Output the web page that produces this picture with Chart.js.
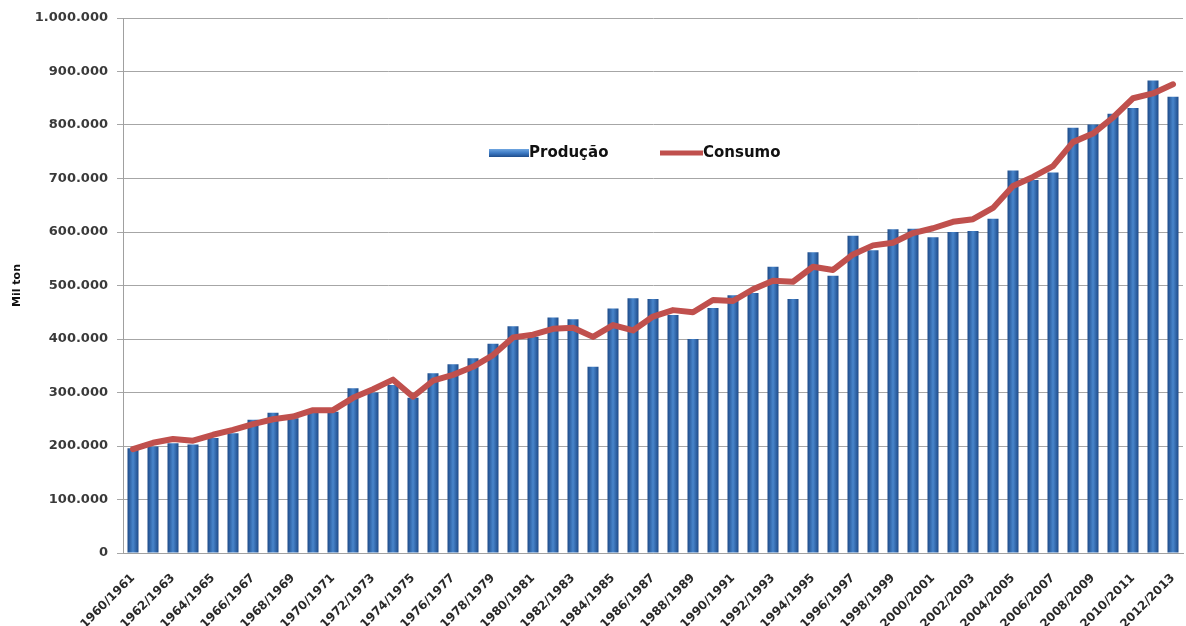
<!DOCTYPE html>
<html>
<head>
<meta charset="utf-8">
<style>
  html, body { margin: 0; padding: 0; background: #fff; }
  #wrap { position: relative; width: 1186px; height: 626px; }
</style>
<script src="https://cdn.jsdelivr.net/npm/chart.js@4.4.1/dist/chart.umd.min.js"></script>
</head>
<body>
<div id="wrap"><canvas id="grain-chart" width="1186" height="626"></canvas></div>
<script>
// safras 1960/1961 .. 2012/2013, valores em mil toneladas
const safras = [];
for (let y = 1960; y <= 2012; y++) safras.push(y + '/' + (y + 1));

const producao = [
  196000, 199000, 205000, 203000, 215000, 224000, 249000, 262000, 252000, 262000,
  264000, 308000, 300000, 314000, 290000, 336000, 353000, 364000, 391000, 424000,
  404000, 440000, 437000, 348000, 457000, 476000, 475000, 445000, 400000, 458000,
  482000, 486000, 535000, 475000, 562000, 518000, 593000, 566000, 605000, 606000,
  590000, 600000, 602000, 625000, 715000, 697000, 711000, 795000, 801000, 821000,
  832000, 883000, 853000
];

const consumo = [
  194000, 206000, 213000, 210000, 221000, 230000, 241000, 250000, 255000, 267000,
  267000, 290000, 306000, 324000, 292000, 322000, 333000, 348000, 370000, 403000,
  408000, 419000, 421000, 404000, 426000, 416000, 442000, 454000, 450000, 473000,
  471000, 493000, 509000, 507000, 535000, 529000, 558000, 575000, 580000, 598000,
  607000, 619000, 624000, 645000, 686000, 703000, 723000, 768000, 784000, 814000,
  850000, 859000, 876000
];

const yMax = 1000000;
const yStep = 100000;

function formatMil(v) {
  return v.toString().replace(/\B(?=(\d{3})+(?!\d))/g, '.');
}

// gradiente horizontal de cada barra (efeito cilindro)
function barFill(ctx) {
  const chart = ctx.chart;
  if (!chart.chartArea || ctx.type !== 'data') return '#2d66ae';
  const xs = chart.scales.x;
  const cx = xs.getPixelForValue(ctx.dataIndex);
  const w = xs.width / safras.length * 0.55;
  const g = chart.ctx.createLinearGradient(cx - w / 2, 0, cx + w / 2, 0);
  g.addColorStop(0, '#1d4a88');
  g.addColorStop(0.5, '#4886cc');
  g.addColorStop(1, '#1d4a88');
  return g;
}

// legenda desenhada dentro da area do grafico
const innerLegend = {
  id: 'innerLegend',
  afterDraw(chart) {
    const c = chart.ctx;
    const y = 153;
    c.save();
    const g = c.createLinearGradient(0, y - 4, 0, y + 4);
    g.addColorStop(0, '#6fa6e0');
    g.addColorStop(0.5, '#3d7ac4');
    g.addColorStop(1, '#1f4d8c');
    c.fillStyle = g;
    c.fillRect(489, y - 4, 40, 8);
    c.strokeStyle = '#c0504d';
    c.lineWidth = 5;
    c.beginPath();
    c.moveTo(660, y);
    c.lineTo(703, y);
    c.stroke();
    c.fillStyle = '#111';
    c.font = 'bold 15px "DejaVu Sans"';
    c.textBaseline = 'middle';
    c.fillText('Produção', 529, y);
    c.fillText('Consumo', 703, y);
    c.restore();
  }
};

new Chart(document.getElementById('grain-chart'), {
  type: 'bar',
  data: {
    labels: safras,
    datasets: [{
      type: 'line',
      label: 'Consumo',
      data: consumo,
      borderColor: '#c0504d',
      backgroundColor: '#c0504d',
      borderWidth: 6,
      pointRadius: 0,
      tension: 0,
      borderJoinStyle: 'round',
      borderCapStyle: 'round',
      order: 0
    },
    {
      label: 'Produção',
      data: producao,
      backgroundColor: barFill,
      borderWidth: 0,
      categoryPercentage: 1,
      barPercentage: 0.55,
      order: 1
    }]
  },
  options: {
    responsive: false,
    animation: false,
    layout: { padding: { top: 18, right: 3, left: 0, bottom: 0 } },
    plugins: {
      legend: { display: false },
      tooltip: { enabled: false }
    },
    scales: {
      x: {
        grid: { display: false },
        border: { display: true, color: '#a0a0a0', width: 1 },
        ticks: {
          autoSkip: false,
          minRotation: 45,
          maxRotation: 45,
          padding: 10,
          color: '#2a2a2a',
          font: { family: 'DejaVu Sans', size: 12, weight: 'bold' },
          callback: function (val, i) {
            return i % 2 === 0 ? safras[i] : '';
          }
        },
        afterFit: function (scale) {
          scale.height = 73;
          scale.paddingLeft = 0;
          scale.paddingRight = 0;
        }
      },
      y: {
        min: 0,
        max: yMax,
        grid: { color: '#a6a6a6', tickLength: 6, lineWidth: 1 },
        border: { display: true, color: '#a0a0a0', width: 1 },
        ticks: {
          stepSize: yStep,
          padding: 9,
          color: '#3a3a3a',
          font: { family: 'DejaVu Sans', size: 13, weight: 'bold' },
          callback: function (v) { return formatMil(v); }
        },
        title: {
          display: true,
          text: 'Mil ton',
          color: '#111',
          padding: { top: 11, bottom: 0 },
          font: { family: 'DejaVu Sans', size: 11, weight: 'bold' }
        },
        afterFit: function (scale) { scale.width = 123; }
      }
    }
  },
  plugins: [innerLegend]
});
</script>
</body>
</html>
